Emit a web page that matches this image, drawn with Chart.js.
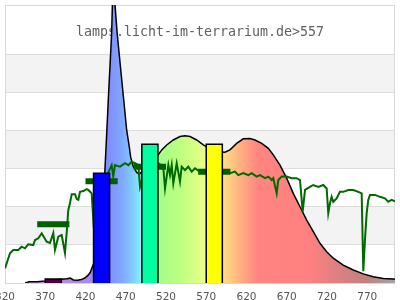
<!DOCTYPE html>
<html>
<head>
<meta charset="utf-8">
<script src="https://cdn.jsdelivr.net/npm/chart.js@4"></script>
<style>
  html, body { margin: 0; padding: 0; background: #fff; }
  #wrap { width: 400px; height: 300px; }
</style>
</head>
<body>
<div id="wrap"><canvas id="myChart"></canvas></div>
<script>
// x tick labels (nm)
const xTicks = [320, 370, 420, 470, 520, 570, 620, 670, 720, 770];

// lamp spectrum (nm / relative value)
const lampNm = [345, 350, 360, 370, 380, 390, 397, 401, 405, 410, 415, 419, 423, 426, 429, 431, 436, 440, 444, 446.3,
  448.3, 450.4, 452.5, 454.3, 456.3, 459.3, 463.4, 467.5, 471.2, 474.4, 476.1, 479.4, 483.6, 487, 495, 503, 510.4, 514.7, 520.9, 529.1,
  537.4, 543.6, 549.8, 558.1, 566.3, 570.6, 580, 593.3, 599.5, 607.8, 616, 624.3, 630.6, 638.9, 647.1, 653.3, 661.6, 669.9, 678.1, 686.5,
  694.8, 703, 711.3, 719.6, 727.8, 740.2, 752.7, 765.1, 777.5, 790, 802.4, 804.5];
const lampVal = [0, 0.3, 0.3, 0.5, 0.8, 1.0, 1.1, 1.3, 0.8, 0.7, 0.9, 1.3, 2.0, 2.8, 4.5, 5.5, 10, 18, 29, 39,
  48, 56.7, 65.6, 80, 74, 65.6, 56.7, 48, 40, 35.7, 33, 30.5, 29.0, 28.5, 30.5, 32, 33.6, 34.9, 36.2, 37.5,
  38.4, 38.6, 38.4, 37.5, 36.2, 35.7, 34.5, 34.3, 34.9, 36.6, 37.8, 37.9, 37.5, 36.6, 35.3, 33.6, 30.9, 27.5, 23.5, 20.0,
  16.5, 13.5, 10.4, 8.2, 6.5, 4.7, 3.4, 2.4, 1.65, 1.2, 1.05, 1.0];

// daylight reference spectrum
const sunNm = [320, 326.2, 330.3, 336.5, 340.7, 344.8, 348.9, 355.2, 357.3, 361.4, 365.6, 371.8, 375.9, 380, 382.1, 386.2, 390.4, 394.5, 396.6, 398.6,
  400.7, 402.9, 407, 409.1, 411.1, 413.2, 417.3, 421.5, 423.5, 427.7, 429.7, 436, 444, 452.5, 454.5, 456.6, 462.9, 469.1, 473.2, 477.4,
  481.5, 485.6, 487.7, 495, 503, 510.4, 516.6, 518.8, 522.9, 525, 527.1, 529.1, 533.3, 537.4, 539.5, 543.6, 547.7, 551.9, 556, 562.2,
  568.4, 575, 585, 593.3, 599.5, 605.7, 609.8, 616, 622.2, 626.5, 632.7, 636.8, 643, 647.1, 651.3, 653.3, 657.5, 659.5, 663.7, 669.9,
  676.1, 682.4, 686.5, 689.8, 692.7, 698.9, 703, 709.2, 715.4, 719.6, 721.6, 723.7, 725.8, 727.8, 732, 736.1, 740.2, 746.5, 752.7, 758.9,
  763.1, 765.1, 767.2, 769.3, 771.3, 773.4, 779.6, 785.8, 792, 796.1, 800.4, 804.5];
const sunVal = [3.85, 7.79, 8.65, 8.65, 9.52, 9.10, 10.15, 9.96, 11.27, 11.72, 13.03, 10.83, 10.49, 13.11, 8.65, 12.14, 12.59, 7.87, 13.11, 19.1,
  20.9, 23.3, 23.3, 22.0, 21.8, 23.9, 24.1, 24.6, 24.4, 23.5, 16.5, 24, 27, 30.9, 27.9, 30.9, 30.5, 31.4, 30.9, 31.8,
  31.4, 30.9, 25.2, 31, 30.5, 31.4, 30.5, 24.8, 30.9, 28.3, 30.9, 26.1, 31.4, 26.6, 30.5, 29.6, 30.5, 29.2, 30.1, 29.2,
  29.2, 29.4, 29.2, 29.6, 28.8, 29.2, 28.3, 28.8, 28.3, 28.8, 27.9, 28.3, 27.5, 27.9, 27.0, 27.5, 23.5, 27.0, 27.9, 27.9,
  27.5, 27.5, 27.0, 18.7, 24.4, 25.2, 25.7, 25.2, 25.7, 24.8, 18.3, 20.9, 22.6, 21.3, 22.2, 23.9, 23.9, 24.4, 24.4, 23.9,
  23.5, 3.1, 11.3, 18.3, 21.8, 23.1, 23.1, 22.6, 22.2, 21.3, 21.8, 21.4];

// daylight band averages
const avgStart = [360, 420, 480, 560];
const avgEnd = [400, 460, 520, 600];
const avgVal = [15.4, 26.7, 30.5, 29.2];

// lamp bands
const barStart = [370, 430, 490, 570];
const barEnd = [390, 450, 510, 590];
const barVal = [1.05, 28.8, 36.4, 36.4];
const barColor = ['#4b0046', '#0000ff', '#00ffa0', '#ffff00'];

const titleText = 'lamps.licht-im-terrarium.de>557';

// pastel spectrum under the lamp curve
const gradStops = [[340, '#c090d8'], [400, '#b88ad8'], [425, '#a888f0'], [440, '#8888ff'], [450, '#8090ff'],
  [465, '#80a8ff'], [480, '#80d0ff'], [490, '#80f8ff'], [500, '#80ffc0'], [510, '#a0ff88'], [540, '#c0ff80'],
  [568, '#e8ff88'], [590, '#ffe088'], [605, '#ffc080'], [620, '#ffa080'], [635, '#ff8480'], [700, '#ff8080'],
  [730, '#e08080'], [770, '#c08080'], [800, '#a8a0a0']];

function spectrumFill(c) {
  const chart = c.chart;
  const xs = chart.scales.x;
  if (!chart.chartArea || !xs) return '#ff8080';
  const g = chart.ctx.createLinearGradient(xs.left, 0, xs.right, 0);
  gradStops.forEach(([nm, col]) => {
    const p = (xs.getPixelForValue(nm) - xs.left) / (xs.right - xs.left);
    g.addColorStop(Math.min(1, Math.max(0, p)), col);
  });
  return g;
}

const pts = (xs, ys) => xs.map((x, i) => ({ x: x, y: ys[i] }));

const avgData = [];
avgStart.forEach((s, i) => {
  avgData.push({ x: s, y: avgVal[i] }, { x: avgEnd[i], y: avgVal[i] }, { x: avgEnd[i], y: null });
});

const barSets = barStart.map((s, i) => ({
  data: [{ x: s, y: 0 }, { x: s, y: barVal[i] }, { x: barEnd[i], y: barVal[i] }, { x: barEnd[i], y: 0 }],
  backgroundColor: barColor[i],
  borderColor: '#000',
  borderWidth: 1.5,
  fill: 'origin',
  pointRadius: 0,
  order: 0,
}));

const backdrop = {
  id: 'backdrop',
  beforeDraw(chart) {
    const { ctx, chartArea: a, scales: { y } } = chart;
    ctx.save();
    ctx.fillStyle = '#f3f3f3';
    y.ticks.forEach((t, i) => {
      const next = y.ticks[i + 1];
      if (i % 2 === 1 && next && next.value - t.value === 10) {
        const top = y.getPixelForValue(next.value);
        const bot = y.getPixelForValue(t.value);
        ctx.fillRect(a.left, top, a.right - a.left, bot - top);
      }
    });
    ctx.restore();
  },
  beforeDatasetsDraw(chart) {
    const { ctx, chartArea: a } = chart;
    ctx.save();
    ctx.strokeStyle = '#d8d8d8';
    ctx.lineWidth = 1;
    ctx.strokeRect(a.left + 0.5, a.top + 0.5, a.right - a.left - 1, a.bottom - a.top);
    ctx.fillStyle = '#606060';
    ctx.font = '13.3px "DejaVu Sans Mono"';
    ctx.textAlign = 'center';
    ctx.textBaseline = 'alphabetic';
    ctx.fillText(titleText, (a.left + a.right) / 2, 36);
    ctx.restore();
  }
};

const ctx = document.getElementById('myChart').getContext('2d');
const myChart = new Chart(ctx, {
  type: 'line',
  data: {
    datasets: [
      ...barSets,
      {
        data: avgData,
        borderColor: '#005f00',
        borderWidth: 6,
        borderCapStyle: 'butt',
        pointRadius: 0,
        spanGaps: false,
        fill: false,
        order: 1,
      },
      {
        data: pts(sunNm, sunVal),
        borderColor: '#006a00',
        borderWidth: 2,
        pointRadius: 0,
        fill: false,
        order: 2,
      },
      {
        data: pts(lampNm, lampVal),
        borderColor: '#000',
        borderWidth: 1.5,
        backgroundColor: spectrumFill,
        pointRadius: 0,
        fill: 'origin',
        order: 3,
      },
    ],
  },
  options: {
    responsive: true,
    maintainAspectRatio: false,
    animation: false,
    devicePixelRatio: 1,
    layout: { padding: { left: 5, right: 5, top: 5, bottom: 0 } },
    elements: { line: { tension: 0 } },
    plugins: { legend: { display: false }, tooltip: { enabled: false } },
    scales: {
      x: {
        type: 'linear',
        min: 320,
        max: 804.5,
        grid: { display: false, drawTicks: false },
        border: { display: false },
        ticks: {
          autoSkip: false,
          maxRotation: 0,
          padding: 8,
          color: '#555',
          font: { family: 'DejaVu Sans', size: 10.5 },
        },
        afterBuildTicks: (s) => { s.ticks = xTicks.map((v) => ({ value: v })); },
        afterFit: (s) => { s.paddingLeft = 0; s.paddingRight = 0; s.height = 17; },
      },
      y: {
        min: 0,
        max: 72.9,
        ticks: { display: false, stepSize: 10 },
        grid: { color: '#dddddd', drawTicks: false },
        border: { display: false },
        afterFit: (s) => { s.width = 0; },
      },
    },
  },
  plugins: [backdrop],
});
</script>
</body>
</html>
